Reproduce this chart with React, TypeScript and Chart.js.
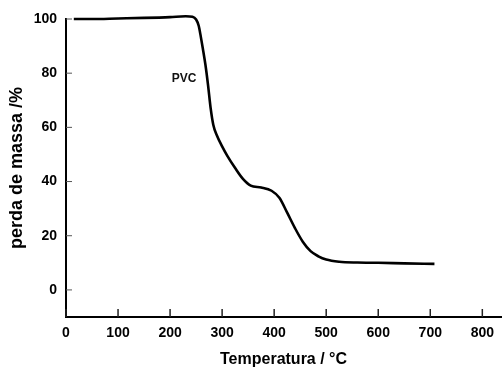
import React, { useEffect, useRef } from "react";
import { Chart, registerables } from "chart.js";

Chart.register(...registerables);

const temperature = [15, 50, 100, 150, 200, 230, 243, 250, 255, 259, 263, 268, 273, 278, 283, 290, 300, 310, 325, 340, 355, 375, 395, 410, 425, 440, 455, 470, 485, 500, 525, 560, 600, 650, 708];
const massLoss = [100, 100, 100.2, 100.4, 100.7, 101, 100.8, 99.8, 97.5, 93.5, 89, 83, 75.5, 67, 61, 57, 53, 49.5, 45, 41, 38.5, 37.8, 36.6, 34, 28.5, 22.8, 17.8, 14.3, 12.4, 11.2, 10.4, 10.1, 10, 9.8, 9.6];
const xTicks = [0, 100, 200, 300, 400, 500, 600, 700, 800];
const yTicks = [0, 20, 40, 60, 80, 100];
const seriesLabel = "PVC";
const labelPos = { x: 227, y: 78 };

const FONT = "'Liberation Sans', Arial, Helvetica, sans-serif";

const innerTicks = {
  id: "innerTicks",
  afterDatasetsDraw(chart: any) {
    const { ctx } = chart;
    const xs = chart.scales.x;
    const ys = chart.scales.y;
    const area = chart.chartArea;
    ctx.save();
    ctx.strokeStyle = "#222";
    ctx.lineWidth = 1.5;
    xTicks.forEach((v) => {
      const px = xs.getPixelForValue(v);
      ctx.beginPath();
      ctx.moveTo(px, area.bottom);
      ctx.lineTo(px, area.bottom - 8);
      ctx.stroke();
    });
    ctx.strokeStyle = "#555";
    ctx.lineWidth = 1;
    yTicks.forEach((v) => {
      const py = ys.getPixelForValue(v);
      ctx.beginPath();
      ctx.moveTo(area.left, py);
      ctx.lineTo(area.left + 6, py);
      ctx.stroke();
    });
    ctx.fillStyle = "#111";
    ctx.font = `bold 12px ${FONT}`;
    ctx.textAlign = "center";
    ctx.textBaseline = "middle";
    ctx.fillText(seriesLabel, xs.getPixelForValue(labelPos.x), ys.getPixelForValue(labelPos.y));
    ctx.restore();
  },
};

export default function App() {
  const ref = useRef<HTMLCanvasElement | null>(null);
  useEffect(() => {
    if (!ref.current) return;
    const chart = new Chart(ref.current, {
      type: "line",
      data: {
        datasets: [
          {
            label: seriesLabel,
            data: temperature.map((t, i) => ({ x: t, y: massLoss[i] })),
            borderColor: "#000",
            borderWidth: 2.6,
            pointRadius: 0,
            tension: 0.4,
            cubicInterpolationMode: "monotone",
            fill: false,
            clip: false as any,
          },
        ],
      },
      options: {
        animation: false,
        responsive: true,
        maintainAspectRatio: false,
        layout: { padding: { top: 19, right: 0, left: 0, bottom: 0 } },
        plugins: { legend: { display: false }, tooltip: { enabled: false } },
        scales: {
          x: {
            type: "linear",
            min: 0,
            max: 836,
            afterBuildTicks: (s: any) => {
              s.ticks = xTicks.map((v) => ({ value: v }));
            },
            afterFit: (s: any) => {
              s.height = 53;
            },
            grid: { display: true, drawOnChartArea: false, drawTicks: false, tickLength: 0 },
            border: { display: true, color: "#000", width: 2 },
            ticks: {
              color: "#000",
              padding: 8,
              maxRotation: 0,
              font: { family: FONT, size: 14, weight: "bold" },
            },
            title: {
              display: true,
              text: "Temperatura / °C",
              color: "#000",
              padding: { top: 0, bottom: 1 },
              font: { family: FONT, size: 16, weight: "bold" },
            },
          },
          y: {
            type: "linear",
            min: -10,
            max: 100,
            afterBuildTicks: (s: any) => {
              s.ticks = yTicks.map((v) => ({ value: v }));
            },
            afterFit: (s: any) => {
              s.width = 66;
            },
            grid: { display: true, drawOnChartArea: false, drawTicks: false, tickLength: 0 },
            border: { display: true, color: "#000", width: 2 },
            ticks: {
              color: "#000",
              padding: 9,
              font: { family: FONT, size: 14, weight: "bold" },
            },
            title: {
              display: true,
              text: "perda de massa /%",
              color: "#000",
              padding: { top: 6, bottom: 0 },
              font: { family: FONT, size: 18, weight: "bold" },
            },
          },
        },
      },
      plugins: [innerTicks],
    });
    return () => chart.destroy();
  }, []);
  return (
    <div style={{ position: "fixed", left: 0, top: 0, width: 502, height: 370, background: "#fff" }}>
      <canvas ref={ref} />
    </div>
  );
}
